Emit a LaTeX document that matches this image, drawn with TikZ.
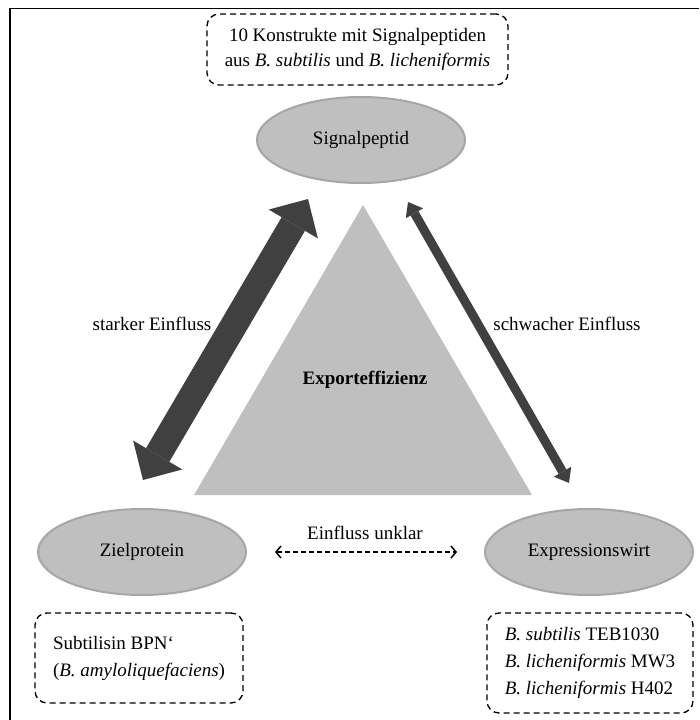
\documentclass[tikz,border=0pt]{standalone}
\usepackage{fontspec}
\setmainfont{Liberation Serif}
\usetikzlibrary{shapes.geometric,arrows.meta}
\definecolor{ellfill}{HTML}{BFBFBF}
\definecolor{elldraw}{HTML}{A6A6A6}
\definecolor{arrowc}{HTML}{404040}
\definecolor{trifill}{HTML}{BFBFBF}
\begin{document}
\begin{tikzpicture}[x=1pt,y=-1pt,
  font=\fontsize{19}{25}\selectfont,
  ell/.style={ellipse, fill=ellfill, draw=elldraw, line width=2pt,
    minimum width=208pt, minimum height=86pt, inner sep=0pt},
  dbox/.style={draw, dash pattern=on 6pt off 4pt, line width=1.3pt,
    rounded corners=12pt, inner sep=0pt},
  bigarrow/.style={draw=arrowc, line width=27pt,
    {Triangle[width=57pt,length=29pt,line width=0pt]}-{Triangle[width=57pt,length=29pt,line width=0pt]}},
  smallarrow/.style={draw=arrowc, line width=9pt,
    {Triangle[width=20pt,length=13pt,line width=0pt]}-{Triangle[width=20pt,length=13pt,line width=0pt]}},
  dasharrow/.style={draw=black, line width=1.5pt, dash pattern=on 5pt off 3pt,
    {Straight Barb[length=5pt,width=12pt]}-{Straight Barb[length=5pt,width=12pt]}},
  lbl/.style={inner sep=0pt}
]
\useasboundingbox (0,0) rectangle (699,720);
% outer frame (only top and left edges visible)
\draw[line width=1.5pt] (10,720) -- (10,8.5) -- (699,8.5);

% triangle
\fill[trifill] (194,495) -- (363,205) -- (532,495) -- cycle;
\node[lbl, font=\fontsize{19}{25}\selectfont\bfseries] (exp) at (365,380) {Exporteffizienz};

% ellipses
\node[ell] (sig) at (361,140) {Signalpeptid};
\node[ell] (zp) at (142,552) {Zielprotein};
\node[ell] (ew) at (589,552) {Expressionswirt};

% dashed info boxes
\node[dbox, minimum width=301pt, minimum height=71pt, align=center] (topbox) at (357.5,49.5)
  {10 Konstrukte mit Signalpeptiden\\aus \textit{B. subtilis} und \textit{B. licheniformis}};
\node[dbox, minimum width=208pt, minimum height=90pt, align=left,
  font=\fontsize{19}{27}\selectfont] (zpbox) at (139,658)
  {Subtilisin BPN‘\\(\textit{B. amyloliquefaciens})};
\node[dbox, minimum width=206pt, minimum height=100pt, align=left,
  font=\fontsize{19}{27}\selectfont] (ewbox) at (590,663)
  {\textit{B. subtilis} TEB1030\\\textit{B. licheniformis} MW3\\\textit{B. licheniformis} H402};

% arrows
\coordinate (la1) at (308,199);
\coordinate (la2) at (143,480);
\coordinate (ra1) at (408,202);
\coordinate (ra2) at (569,483);
\draw[bigarrow] (la1) -- (la2);
\draw[smallarrow] (ra1) -- (ra2);
\draw[dasharrow] ([xshift=28pt]zp.east) -- ([xshift=-27pt]ew.west);

% labels
\node[lbl] (l1) at (152,324) {starker Einfluss};
\node[lbl] (l2) at (567,324) {schwacher Einfluss};
\node[lbl] (l3) at (365,533) {Einfluss unklar};
\end{tikzpicture}
\end{document}
